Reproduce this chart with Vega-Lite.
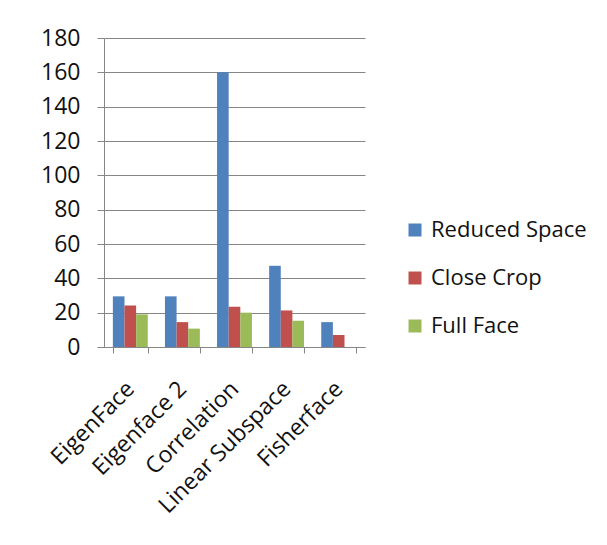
{
  "$schema": "https://vega.github.io/schema/vega-lite/v6.json",
  "autosize": "none",
  "width": 261,
  "height": 309,
  "padding": {"left": 104, "top": 38, "right": 242, "bottom": 198},
  "background": "white",
  "data": {
    "values": [
      {"method": "EigenFace", "series": "Reduced Space", "value": 29.5},
      {"method": "EigenFace", "series": "Close Crop", "value": 24.2},
      {"method": "EigenFace", "series": "Full Face", "value": 19},
      {"method": "Eigenface 2", "series": "Reduced Space", "value": 29.5},
      {"method": "Eigenface 2", "series": "Close Crop", "value": 14.5},
      {"method": "Eigenface 2", "series": "Full Face", "value": 10.7},
      {"method": "Correlation", "series": "Reduced Space", "value": 160},
      {"method": "Correlation", "series": "Close Crop", "value": 23.5},
      {"method": "Correlation", "series": "Full Face", "value": 20},
      {"method": "Linear Subspace", "series": "Reduced Space", "value": 47.3},
      {"method": "Linear Subspace", "series": "Close Crop", "value": 21.3},
      {"method": "Linear Subspace", "series": "Full Face", "value": 15.3},
      {"method": "Fisherface", "series": "Reduced Space", "value": 14.5},
      {"method": "Fisherface", "series": "Close Crop", "value": 7},
      {"method": "Fisherface", "series": "Full Face", "value": 0}
    ]
  },
  "mark": {"type": "bar"},
  "encoding": {
    "x": {
      "field": "method",
      "type": "nominal",
      "sort": ["EigenFace", "Eigenface 2", "Correlation", "Linear Subspace", "Fisherface"],
      "scale": {"paddingInner": 0.33, "paddingOuter": 0.17},
      "axis": {
        "title": null,
        "labelAngle": -45,
        "labelAlign": "right",
        "labelBaseline": "middle",
        "labelFont": "Open Sans",
        "labelFontSize": 23,
        "labelColor": "#111111",
        "labelPadding": 32,
        "labelDx": 14,
        "labelOverlap": false,
        "labelLimit": 0,
        "tickBand": "extent",
        "tickSize": 6,
        "tickColor": "#868686",
        "domainColor": "#868686",
        "grid": false
      }
    },
    "xOffset": {
      "field": "series",
      "type": "nominal",
      "sort": ["Reduced Space", "Close Crop", "Full Face"],
      "scale": {"paddingInner": 0, "paddingOuter": 0}
    },
    "y": {
      "field": "value",
      "type": "quantitative",
      "scale": {"domain": [0, 180], "nice": false},
      "axis": {
        "title": null,
        "values": [0, 20, 40, 60, 80, 100, 120, 140, 160, 180],
        "labelFont": "Open Sans",
        "labelFontSize": 23,
        "labelColor": "#111111",
        "labelPadding": 17,
        "tickSize": 7,
        "tickColor": "#868686",
        "domainColor": "#868686",
        "gridColor": "#868686",
        "gridOpacity": 1
      }
    },
    "color": {
      "field": "series",
      "type": "nominal",
      "sort": ["Reduced Space", "Close Crop", "Full Face"],
      "scale": {"domain": ["Reduced Space", "Close Crop", "Full Face"], "range": ["#4F81BD", "#C0504D", "#9BBB59"]},
      "legend": {
        "title": null,
        "orient": "none",
        "legendX": 300,
        "legendY": 181,
        "padding": 0,
        "symbolType": "square",
        "symbolSize": 169,
        "symbolStrokeWidth": 0,
        "labelFont": "Open Sans",
        "labelFontSize": 22,
        "labelColor": "#111111",
        "labelOffset": 5,
        "labelLimit": 0,
        "rowPadding": 26
      }
    }
  },
  "config": {"view": {"stroke": null}}
}
